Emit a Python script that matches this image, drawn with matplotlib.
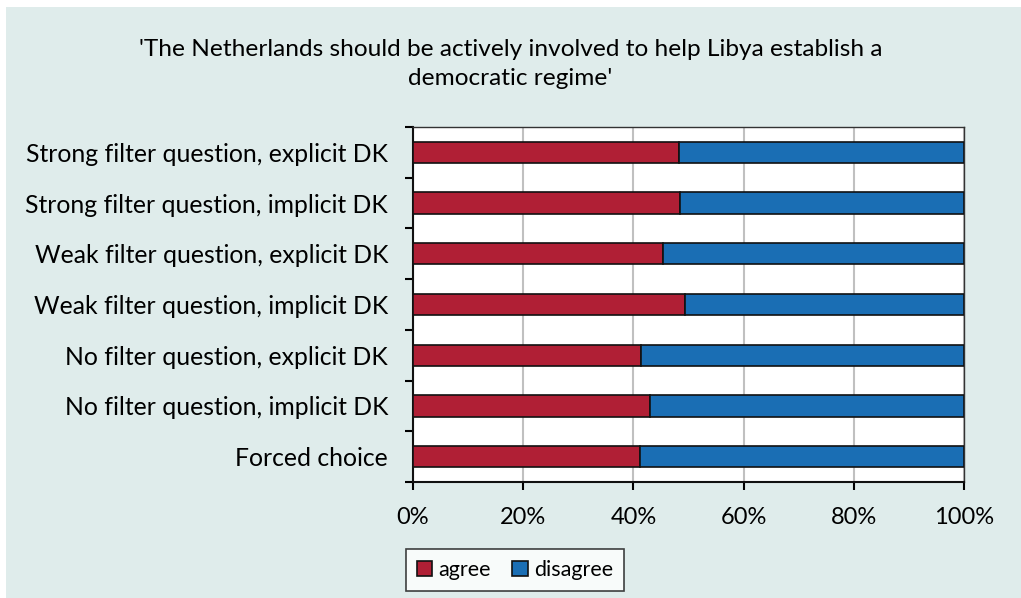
import matplotlib
matplotlib.use("Agg")
import matplotlib.pyplot as plt
from matplotlib.patches import Rectangle
from matplotlib.ticker import PercentFormatter

plt.rcParams['font.family'] = ['Lato', 'DejaVu Sans']

categories = [
    "Strong filter question, explicit DK",
    "Strong filter question, implicit DK",
    "Weak filter question, explicit DK",
    "Weak filter question, implicit DK",
    "No filter question, explicit DK",
    "No filter question, implicit DK",
    "Forced choice",
]
agree = [48.3, 48.5, 45.3, 49.4, 41.4, 43.0, 41.2]
disagree = [100 - a for a in agree]
series_names = ["agree", "disagree"]
xtick_values = [0, 20, 40, 60, 80, 100]

red = "#b01f35"
blue = "#1a6eb4"
bg = "#dfeceb"

W, H = 1021, 598
fig = plt.figure(figsize=(W / 100, H / 100), dpi=100)
fig.patch.set_facecolor("white")
fig.patches.append(Rectangle((6 / W, 0), 1 - 6 / W, 1 - 7 / H, transform=fig.transFigure,
                             facecolor=bg, edgecolor="none", zorder=-10))

left, right, top, bottom = 413, 964, 127, 482
ax = fig.add_axes([left / W, 1 - bottom / H, (right - left) / W, (bottom - top) / H])
ax.set_facecolor("white")

n = len(categories)
ypos = list(range(n))[::-1]
h = 0.42
ax.barh(ypos, agree, height=h, color=red, edgecolor="#111111", linewidth=1.2, label=series_names[0], zorder=3)
ax.barh(ypos, disagree, left=agree, height=h, color=blue, edgecolor="#111111", linewidth=1.2, label=series_names[1], zorder=3)

ax.set_xlim(0, 100)
ax.set_ylim(-0.5, n - 0.5)
ax.set_xticks(xtick_values)
ax.xaxis.set_major_formatter(PercentFormatter(decimals=0))
ax.set_yticks(ypos)
ax.set_yticklabels(categories)
ax.set_yticks([i + 0.5 for i in range(-1, n)], minor=True)
ax.tick_params(axis='y', which='major', length=0, pad=18, labelsize=17.8)
ax.tick_params(axis='y', which='minor', length=6, width=1.5, direction='out')
ax.tick_params(axis='x', which='major', length=6, width=1.5, direction='out', pad=12, labelsize=17)
ax.grid(axis='x', color="#c0c0c0", linewidth=1.5, zorder=0)
for s in ax.spines.values():
    s.set_linewidth(1.5)
    s.set_color("#111111")
ax.spines['right'].set_color("#333333")
ax.spines['right'].set_linewidth(1.0)
ax.spines['top'].set_color("#333333")
ax.spines['top'].set_linewidth(1.0)

fig.text(0.5, 1 - 64 / H, "'The Netherlands should be actively involved to help Libya establish a\ndemocratic regime'",
         ha='center', va='center', fontsize=17.6, linespacing=1.45)

leg = fig.legend(loc='center', bbox_to_anchor=(515 / W, 1 - 570 / H), ncol=2, fontsize=15.5,
                 frameon=True, fancybox=False, edgecolor="#111111", handlelength=0.7, handleheight=0.7,
                 handletextpad=0.3, columnspacing=1.0, borderpad=0.5)
leg.get_frame().set_linewidth(1.2)

fig.savefig("out.png", dpi=100, facecolor=fig.get_facecolor())
